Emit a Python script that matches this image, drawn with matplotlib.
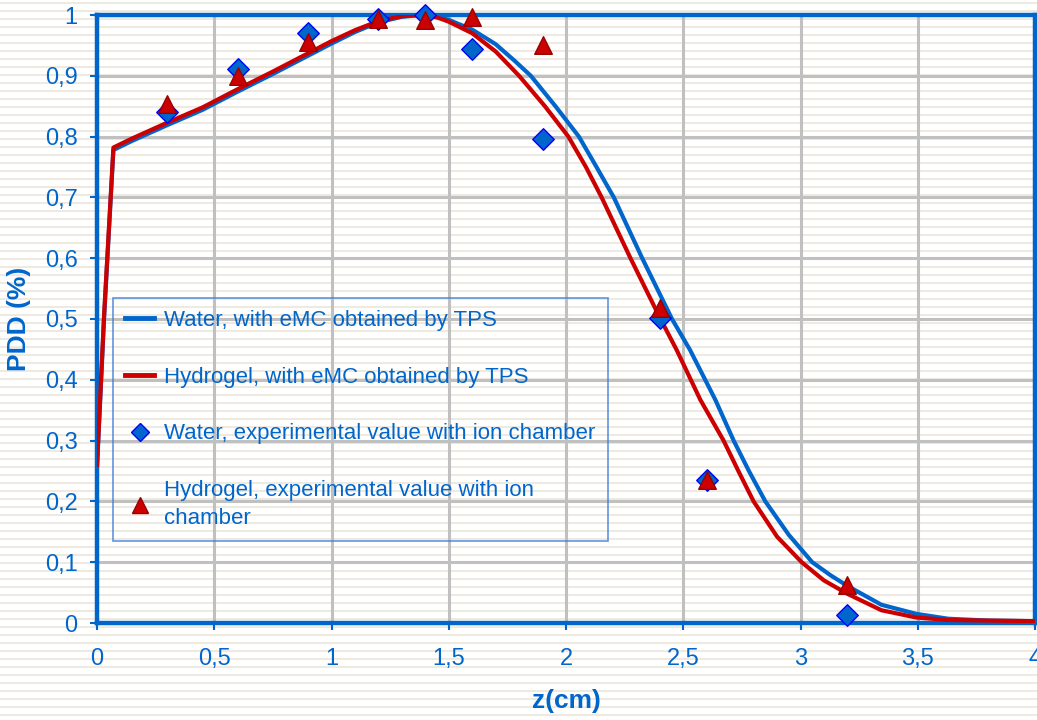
import numpy as np
import matplotlib
matplotlib.use('Agg')
import matplotlib.pyplot as plt
from matplotlib.lines import Line2D

plt.rcParams['font.family'] = ['Liberation Sans', 'DejaVu Sans']

# TPS curves (eMC)
z_water_tps = [0, 0.03, 0.07, 0.15, 0.3, 0.45, 0.6, 0.75, 0.9, 1.0, 1.1, 1.2, 1.3, 1.38, 1.45,
               1.5, 1.6, 1.7, 1.78, 1.85, 1.955, 2.055, 2.13, 2.204, 2.325, 2.452, 2.529, 2.637,
               2.715, 2.78, 2.85, 2.95, 3.05, 3.13, 3.2, 3.345, 3.494, 3.63, 3.8, 4.0]
pdd_water_tps = [0.255, 0.5, 0.778, 0.793, 0.819, 0.844, 0.874, 0.903, 0.933, 0.953, 0.972,
                 0.988, 0.997, 1.0, 0.998, 0.992, 0.976, 0.952, 0.925, 0.9, 0.85, 0.8, 0.75,
                 0.7, 0.6, 0.5, 0.449, 0.367, 0.3, 0.25, 0.2, 0.145, 0.1, 0.078, 0.061, 0.03,
                 0.015, 0.007, 0.004, 0.003]

z_gel_tps = [0, 0.03, 0.07, 0.15, 0.3, 0.45, 0.6, 0.75, 0.9, 1.0, 1.1, 1.2, 1.3, 1.37, 1.45,
             1.5, 1.6, 1.7, 1.8, 1.91, 2.01, 2.085, 2.152, 2.275, 2.403, 2.472, 2.573, 2.672,
             2.735, 2.8, 2.9, 3.005, 3.1, 3.2, 3.345, 3.494, 3.63, 3.8, 4.0]
pdd_gel_tps = [0.26, 0.505, 0.782, 0.797, 0.823, 0.848, 0.878, 0.907, 0.937, 0.957, 0.975,
               0.99, 0.998, 1.0, 0.996, 0.989, 0.97, 0.94, 0.9, 0.85, 0.8, 0.75, 0.7, 0.6,
               0.5, 0.449, 0.367, 0.3, 0.25, 0.2, 0.142, 0.1, 0.07, 0.048, 0.021, 0.009,
               0.005, 0.004, 0.003]

# ion chamber measurements
z_meas = [0.3, 0.6, 0.9, 1.2, 1.4, 1.6, 1.9, 2.4, 2.6, 3.2]
pdd_water_meas = [0.840, 0.911, 0.971, 0.993, 1.0, 0.944, 0.796, 0.502, 0.235, 0.013]
pdd_gel_meas = [0.853, 0.900, 0.956, 0.994, 0.991, 0.997, 0.950, 0.518, 0.236, 0.0625]

x_ticks = [0, 0.5, 1, 1.5, 2, 2.5, 3, 3.5, 4]
y_ticks = [0, 0.1, 0.2, 0.3, 0.4, 0.5, 0.6, 0.7, 0.8, 0.9, 1]

BLUE = '#0066CC'
RED = '#CC0000'
W, H = 1037, 720

fig = plt.figure(figsize=(W / 100, H / 100), dpi=100, facecolor='white')

# lined-paper background
bg = np.ones((H, W, 3))
rows = np.arange(H)
stripe = (rows % 8 == 2) | (rows % 8 == 3)
bg[stripe] = np.array([238, 234, 223]) / 255.0
fig.figimage(bg, xo=0, yo=0, origin='upper', zorder=0)

ax = fig.add_axes([97 / W, 97 / H, (1035 - 97) / W, (623 - 15) / H])
ax.set_facecolor('none')
ax.set_zorder(1)

ax.plot(z_water_tps, pdd_water_tps, color=BLUE, lw=3, zorder=3)
ax.plot(z_gel_tps, pdd_gel_tps, color=RED, lw=3, zorder=4)
ax.scatter(z_meas, pdd_water_meas, marker='D', s=120, color=BLUE, edgecolor='#0000FF',
           linewidth=1, zorder=5, clip_on=False)
ax.scatter(z_meas, pdd_gel_meas, marker='^', s=160, color=RED, edgecolor='#990000',
           linewidth=1, zorder=6, clip_on=False)

ax.set_xlim(0, 4)
ax.set_ylim(0, 1)
ax.set_xticks(x_ticks)
ax.set_yticks(y_ticks)
ax.set_xticklabels([('%g' % t).replace('.', ',') for t in x_ticks])
ax.set_yticklabels([('%g' % t).replace('.', ',') for t in y_ticks])
ax.grid(True, color='#C0C0C0', lw=2.2, zorder=1)
ax.set_axisbelow(True)
for s in ax.spines.values():
    s.set_color(BLUE)
    s.set_linewidth(3.2)
ax.tick_params(colors=BLUE, labelsize=17, width=1.5, length=5, direction='out')
ax.tick_params(axis='x', pad=13)
ax.tick_params(axis='y', pad=9)

ax.set_xlabel('z(cm)', color=BLUE, fontsize=19, fontweight='bold', labelpad=14)
ax.set_ylabel('PDD (%)', color=BLUE, fontsize=19, fontweight='bold', labelpad=10)

handles = [
    Line2D([], [], color=BLUE, lw=3.5),
    Line2D([], [], color=RED, lw=3.5),
    Line2D([], [], ls='none', marker='D', ms=9, color=BLUE, mec='#0000FF'),
    Line2D([], [], ls='none', marker='^', ms=12, color=RED, mec='#990000'),
]
labels = ['Water, with eMC obtained by TPS',
          'Hydrogel, with eMC obtained by TPS',
          'Water, experimental value with ion chamber',
          'Hydrogel, experimental value with ion\nchamber']
leg = ax.legend(handles, labels, loc='upper left', bbox_to_anchor=(16 / 938, (623 - 298) / 608),
                fontsize=16, labelcolor=BLUE, frameon=True, fancybox=False,
                handlelength=1.3, handletextpad=0.45, labelspacing=1.6, borderpad=0.55,
                borderaxespad=0)
for t in leg.get_texts():
    t.set_linespacing(1.45)
leg.get_frame().set_facecolor('none')
leg.get_frame().set_edgecolor('#3A7BD5')
leg.get_frame().set_linewidth(1.2)

fig.savefig('out.png', dpi=100, facecolor=fig.get_facecolor())
